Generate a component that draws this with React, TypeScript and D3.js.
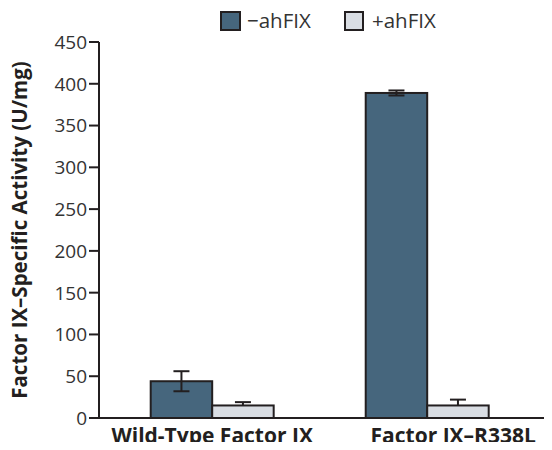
import React from "react";
import * as d3 from "d3";

const categories = ["Wild-Type Factor IX", "Factor IX\u2013R338L"];
const seriesNames = ["\u2212ahFIX", "+ahFIX"];
const minusValues = [44, 389];
const minusErrors = [12, 3];
const plusValues = [15, 15];
const plusErrors = [4, 7];
const yTicks = [0, 50, 100, 150, 200, 250, 300, 350, 400, 450];
const labelShift = [0, 26];

const W = 552, H = 450;
const DARK = "#46667d";
const LIGHT = "#d9dde3";
const STROKE = "#231f20";
const FONT = "'Open Sans', 'DejaVu Sans', sans-serif";

export default function App() {
  const x0 = 99, yTop = 42, yBot = 418;
  const y = d3.scaleLinear().domain([0, 450]).range([yBot, yTop]);
  const xGroup = d3.scaleBand<string>().domain(categories).range([150.7, 488.7]).paddingInner(0.428).paddingOuter(0);
  const xSub = d3.scaleBand<number>().domain([0, 1]).range([0, xGroup.bandwidth()]);
  const series = [
    { vals: minusValues, errs: minusErrors, fill: DARK, full: true },
    { vals: plusValues, errs: plusErrors, fill: LIGHT, full: false },
  ];
  return (
    <div style={{ margin: -8 }}>
      <svg width={W} height={H} style={{ display: "block", background: "#fff" }}>
        {/* legend */}
        <g fontFamily={FONT} fontSize={20.5} fill="#333">
          <rect x={221} y={12} width={19} height={18} fill={DARK} stroke={STROKE} strokeWidth={2} />
          <text x={247} y={28}>{seriesNames[0]}</text>
          <rect x={345} y={12} width={18} height={18} fill={LIGHT} stroke={STROKE} strokeWidth={2} />
          <text x={372} y={28}>{seriesNames[1]}</text>
        </g>
        {/* y axis */}
        <g fontFamily={FONT} fontSize={19} fill="#333">
          {yTicks.map((t) => (
            <g key={t}>
              <line x1={x0 - 10} x2={x0} y1={y(t)} y2={y(t)} stroke={STROKE} strokeWidth={2} />
              <text x={x0 - 12} y={y(t)} dy="0.36em" textAnchor="end">{t}</text>
            </g>
          ))}
        </g>
        <text
          transform={`translate(27,230) rotate(-90)`}
          textAnchor="middle"
          fontFamily={FONT}
          fontWeight="bold"
          fontSize={20.5}
          fill="#231f20"
        >
          Factor IX–Specific Activity (U/mg)
        </text>
        {/* bars */}
        {categories.map((c, ci) => (
          <g key={c}>
            {series.map((s, si) => {
              const bx = (xGroup(c) as number) + (xSub(si) as number);
              const bw = xSub.bandwidth();
              const cx = bx + bw / 2;
              const v = s.vals[ci], e = s.errs[ci];
              return (
                <g key={si}>
                  <rect x={bx} y={y(v)} width={bw} height={y(0) - y(v)} fill={s.fill} stroke={STROKE} strokeWidth={2} />
                  <line x1={cx} x2={cx} y1={y(v + e)} y2={s.full ? y(v - e) : y(v)} stroke={STROKE} strokeWidth={2} />
                  <line x1={cx - 8} x2={cx + 8} y1={y(v + e)} y2={y(v + e)} stroke={STROKE} strokeWidth={2} />
                  {s.full && (
                    <line x1={cx - 8} x2={cx + 8} y1={y(v - e)} y2={y(v - e)} stroke={STROKE} strokeWidth={2} />
                  )}
                </g>
              );
            })}
            <text
              x={(xGroup(c) as number) + xGroup.bandwidth() / 2 + labelShift[ci]}
              y={443}
              textAnchor="middle"
              fontFamily={FONT}
              fontWeight="bold"
              fontSize={21}
              fill="#231f20"
            >
              {c}
            </text>
          </g>
        ))}
        {/* axes lines */}
        <line x1={x0} x2={x0} y1={yTop} y2={yBot + 1} stroke={STROKE} strokeWidth={2} />
        <line x1={x0} x2={W} y1={yBot} y2={yBot} stroke={STROKE} strokeWidth={2} />
      </svg>
    </div>
  );
}
